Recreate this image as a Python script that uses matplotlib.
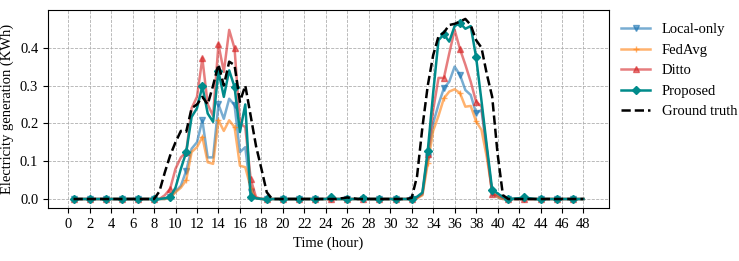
import matplotlib
matplotlib.use('Agg')
import matplotlib.pyplot as plt
import numpy as np

plt.rcParams['font.family'] = ['Liberation Serif', 'DejaVu Serif']
plt.rcParams['font.size'] = 10.5

# half-hour readings, 0.5 .. 48 h (8 values = 4 hours per row)
hours = np.arange(1, 97) / 2.0

ground_truth = [
    0, 0, 0, 0, 0, 0, 0, 0,
    0, 0, 0, 0, 0, 0, 0, 0,
    0.02, 0.07, 0.115, 0.15, 0.18, 0.178, 0.24, 0.25,
    0.27, 0.25, 0.30, 0.356, 0.30, 0.363, 0.354, 0.257,
    0.30, 0.22, 0.14, 0.08, 0.018, 0, 0, 0,
    0, 0, 0, 0, 0, 0, 0, 0,
    0, 0, 0.002, 0.004, 0.002, 0, 0, 0,
    0, 0, 0, 0, 0, 0, 0, 0.003,
    0.06, 0.19, 0.30, 0.38, 0.43, 0.44, 0.46, 0.463,
    0.469, 0.476, 0.46, 0.42, 0.40, 0.33, 0.27, 0.12,
    0.01, 0, 0, 0, 0, 0, 0, 0,
    0, 0, 0, 0, 0, 0, 0, 0,
]

proposed = [
    0, 0, 0, 0, 0, 0, 0, 0,
    0, 0, 0, 0, 0, 0, 0, 0,
    0, 0.002, 0.005, 0.03, 0.08, 0.124, 0.217, 0.24,
    0.298, 0.226, 0.204, 0.338, 0.27, 0.34, 0.296, 0.177,
    0.25, 0.005, 0.002, 0, 0, 0, 0, 0,
    0, 0, 0, 0, 0, 0, 0, 0,
    0.004, 0, 0, 0, 0, 0, 0.002, 0,
    0, 0, 0, 0, 0, 0, 0, 0,
    0.006, 0.017, 0.128, 0.28, 0.42, 0.435, 0.416, 0.457,
    0.465, 0.45, 0.457, 0.375, 0.26, 0.14, 0.024, 0.015,
    0.005, 0, 0.001, 0.002, 0.004, 0.002, 0, 0,
    0, 0, 0, 0, 0, 0, 0, 0,
]

ditto = [
    0, 0, 0, 0, 0, 0, 0, 0,
    0, 0, 0, 0, 0, 0, 0, 0,
    0, 0.01, 0.027, 0.08, 0.11, 0.124, 0.24, 0.27,
    0.372, 0.25, 0.22, 0.409, 0.336, 0.447, 0.398, 0.2,
    0.19, 0.053, 0.005, 0, 0, 0, 0, 0,
    0, 0, 0, 0, 0, 0, 0, 0,
    0, 0, 0, 0, 0, 0, 0, 0,
    0, 0, 0, 0, 0, 0, 0, 0,
    0.004, 0.015, 0.12, 0.235, 0.32, 0.32, 0.385, 0.447,
    0.396, 0.355, 0.31, 0.257, 0.245, 0.13, 0.012, 0.01,
    0.003, 0, 0, 0, 0, 0, 0, 0,
    0, 0, 0, 0, 0, 0, 0, 0,
]

local_only = [
    0, 0, 0, 0, 0, 0, 0, 0,
    0, 0, 0, 0, 0, 0, 0, 0,
    0, 0, 0.005, 0.02, 0.035, 0.075, 0.133, 0.15,
    0.208, 0.11, 0.11, 0.25, 0.212, 0.265, 0.248, 0.124,
    0.137, 0.018, 0.002, 0, 0, 0, 0, 0,
    0, 0, 0, 0, 0, 0, 0, 0,
    0, 0, 0, 0, 0, 0, 0, 0,
    0, 0, 0, 0, 0, 0, 0, 0,
    0.003, 0.012, 0.11, 0.2, 0.25, 0.293, 0.31, 0.35,
    0.328, 0.288, 0.275, 0.227, 0.235, 0.13, 0.015, 0.005,
    0, 0, 0, 0, 0, 0, 0, 0,
    0, 0, 0, 0, 0, 0, 0, 0,
]

fedavg = [
    0, 0, 0, 0, 0, 0, 0, 0,
    0, 0, 0, 0, 0, 0, 0, 0,
    0, 0, 0.003, 0.018, 0.03, 0.05, 0.124, 0.137,
    0.164, 0.097, 0.093, 0.208, 0.18, 0.208, 0.19, 0.088,
    0.084, 0.03, 0.002, 0, 0, 0, 0, 0,
    0, 0, 0, 0, 0, 0, 0, 0,
    0, 0, 0, 0, 0, 0, 0, 0,
    0, 0, 0, 0, 0, 0, 0, 0,
    0.002, 0.01, 0.094, 0.18, 0.22, 0.266, 0.284, 0.29,
    0.28, 0.244, 0.246, 0.205, 0.183, 0.11, 0.02, 0.005,
    0, 0, 0, 0, 0, 0, 0, 0,
    0, 0, 0, 0, 0, 0, 0, 0,
]

fig = plt.figure(figsize=(7.39, 2.61), dpi=100)
ax = fig.add_axes([0.065, 0.203, 0.759, 0.759])

ax.plot(hours, local_only, color='#1f77b4', alpha=0.6, lw=1.8,
        marker='v', ms=4.5, markevery=3, label='Local-only')
ax.plot(hours, fedavg, color='#ff7f0e', alpha=0.6, lw=1.8,
        marker='+', ms=4.5, markevery=3, label='FedAvg')
ax.plot(hours, ditto, color='#d62728', alpha=0.6, lw=1.8,
        marker='^', ms=4.5, markevery=3, label='Ditto')
ax.plot(hours, proposed, color='#008b8b', lw=1.8,
        marker='D', ms=4.5, markevery=3, label='Proposed')
ax.plot(hours, ground_truth, color='black', lw=1.8, ls='--',
        label='Ground truth')

ax.set_xticks(np.arange(0, 49, 2))
ax.set_yticks([0.0, 0.1, 0.2, 0.3, 0.4])
ax.grid(True, ls='--', lw=0.6, color='#b0b0b0')
ax.set_xlabel('Time (hour)')
ax.set_ylabel('Electricity generation (KWh)')
ax.legend(loc='upper left', bbox_to_anchor=(0.998, 1.0), frameon=False)

fig.savefig('out.png', dpi=100)
